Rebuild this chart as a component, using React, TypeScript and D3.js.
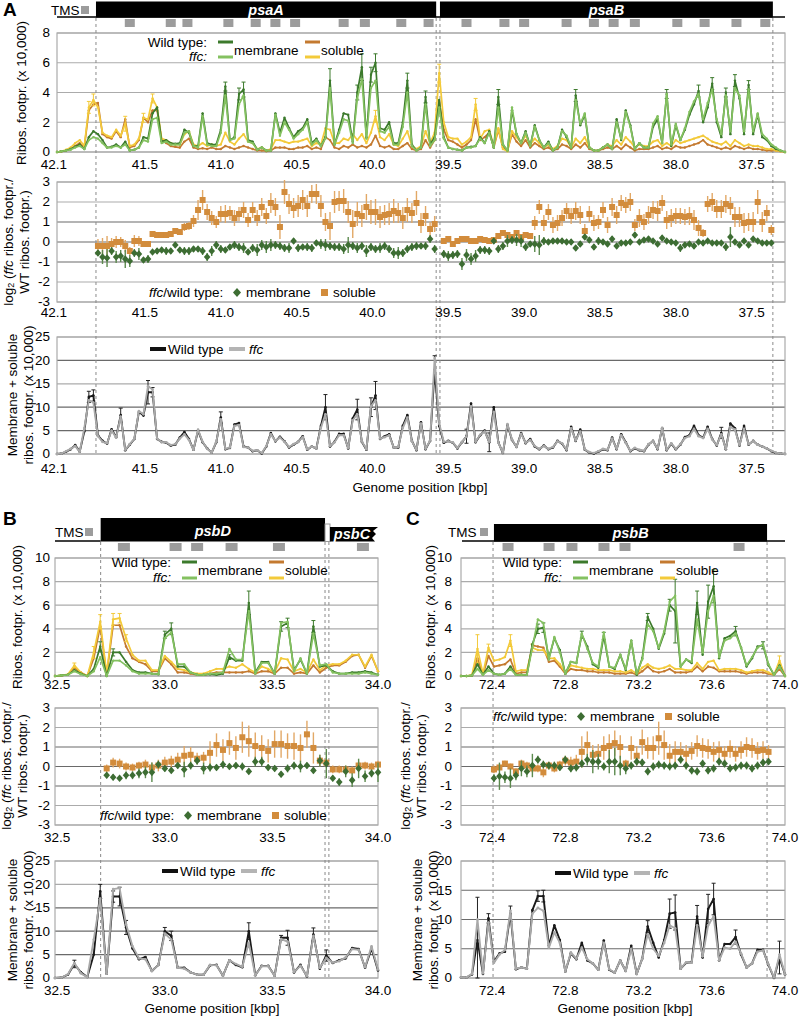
import React from "react";
import * as d3 from "d3";

const FONT = "'Liberation Sans', Arial, Helvetica, sans-serif";

const COL_WT_MEM = "#3c7a2c";
const COL_FFC_MEM = "#84c160";
const COL_WT_SOL = "#c47a30";
const COL_FFC_SOL = "#f3ca3a";
const COL_DIAMOND = "#3d6d33";
const COL_SQUARE = "#d28c3c";
const COL_SQUARE_ERR = "#e2a866";
const COL_DIAMOND_ERR = "#5c8a4e";

// ---------------- Panel A ----------------
const A_BIN_START = 42.08;
const A_BIN_STEP = -0.03;
const A_WT_MEM = [0,0.05,0.1,0.2,0.35,0.5,0.2,1.0,1.4,1.2,
0.8,0.3,0.35,0.5,0.3,0.7,0.1,0.15,0.3,1.0,
0.9,2.6,3.0,0.7,0.8,0.6,0.55,0.6,1.5,1.3,
0.4,0.4,2.6,0.6,0.5,0.5,1.5,4.4,0.8,1.0,
3.9,4.2,0.8,0.7,0.15,0.3,0.1,0.1,2.6,1.3,
2.3,1.6,1.0,1.4,1.6,2.2,0.6,0.9,0.4,1.0,
4.8,0.5,1.5,2.6,2.5,0.7,4.0,5.7,1.0,5.2,
6.0,1.6,1.5,2.0,0.6,0.6,2.0,4.8,0.5,0.1,
0.3,3.7,0.5,1.0,3.5,1.0,0.3,0.2,0.15,0.1,
0.3,0.35,0.4,1.0,0.6,1.4,0.3,3.7,0.5,0.1,
2.8,1.2,0.6,1.4,0.4,1.8,0.8,0.3,0.7,0.1,
0.3,1.5,1.0,0.3,3.8,1.8,2.5,0.3,0.1,0.1,
0.3,0.5,0.2,2.2,0.8,2.8,1.8,0.2,0.6,0.3,
0.3,1.7,2.2,0.6,3.9,0.4,1.8,0.8,1.5,2.5,
3.2,4.1,2.0,3.0,4.6,2.0,1.0,4.0,1.2,4.8,
3.6,1.2,4.5,1.2,2.5,1.0,0.8,0.4,0.2,0.1,
0];
const A_FFC_MEM = [0,0.05,0.1,0.15,0.3,0.4,0.2,0.8,1.0,0.9,
0.6,0.3,0.3,0.4,0.3,0.5,0.1,0.15,0.3,0.8,
0.7,2.2,2.3,0.6,0.7,0.5,0.5,0.5,1.3,1.4,
0.4,0.3,2.4,0.5,0.4,0.4,1.3,3.8,0.8,0.9,
3.2,3.8,0.7,0.6,0.15,0.3,0.1,0.1,2.5,1.1,
2.0,1.5,0.9,1.2,1.5,2.0,0.5,0.8,0.4,0.9,
4.3,0.5,1.3,2.2,2.1,0.6,3.6,4.9,0.9,4.3,
4.8,1.4,1.3,1.7,0.5,0.5,1.7,4.0,0.4,0.1,
0.3,3.2,0.4,0.8,3.0,0.9,0.3,0.2,0.15,0.1,
0.3,0.3,0.4,0.9,0.6,1.3,0.3,3.0,0.5,0.1,
3.0,1.2,0.6,1.3,0.4,1.7,0.8,0.3,0.6,0.1,
0.3,1.4,1.1,0.3,3.5,1.9,2.6,0.3,0.1,0.1,
0.3,0.5,0.2,2.0,0.9,2.7,1.7,0.2,0.6,0.3,
0.3,1.9,2.4,0.6,3.9,0.5,1.9,0.8,1.6,2.7,
3.4,3.9,2.2,3.3,4.2,2.2,1.2,3.8,1.4,4.3,
3.8,1.4,4.2,1.4,2.6,1.2,0.9,0.5,0.3,0.1,
0];
const A_WT_SOL = [0,0.05,0.1,0.2,0.4,0.6,0.3,2.8,3.2,3.3,
1.2,1.0,0.9,1.4,1.0,2.2,0.3,0.4,0.8,2.3,
2.0,2.8,2.8,0.8,0.6,0.4,0.35,0.3,0.7,0.9,
0.3,0.2,0.25,0.2,0.3,0.2,0.2,0.4,0.3,0.2,
0.3,0.4,0.3,0.2,0.1,0.1,0.05,0.1,0.3,0.3,
0.3,0.2,0.2,0.3,0.3,0.4,0.2,0.3,0.2,1.0,
0.8,0.3,0.2,0.4,0.3,0.5,0.3,0.4,0.3,0.5,
1.1,0.4,0.3,0.4,0.2,0.2,0.4,0.6,0.2,0.1,
0.2,0.8,0.3,0.8,3.4,1.5,0.8,0.7,0.5,0.3,
0.5,0.8,2.2,0.8,1.0,1.3,0.3,1.5,0.3,0.1,
1.2,0.7,0.4,0.8,0.3,0.6,0.4,0.2,0.3,0.1,
0.2,0.5,0.4,0.2,0.5,0.3,0.6,0.2,0.1,0.1,
0.2,0.3,0.2,0.4,0.2,0.5,0.3,0.1,0.2,0.2,
0.2,0.3,0.4,0.2,0.3,0.2,0.4,0.3,0.3,0.4,
0.5,0.6,0.8,0.5,0.4,0.3,0.2,0.3,0.2,0.4,
0.3,0.2,0.3,0.2,0.2,0.15,0.1,0.1,0.1,0.05,
0];
const A_FFC_SOL = [0,0.05,0.15,0.3,0.6,0.8,0.4,3.0,3.5,3.0,
1.3,1.1,1.0,1.5,1.1,1.9,0.4,0.5,0.9,2.3,
2.2,3.6,3.0,0.9,0.8,0.6,0.5,0.5,1.2,1.4,
0.5,0.4,0.6,0.4,0.5,0.4,0.5,1.3,0.7,0.5,
0.9,1.2,0.7,0.6,0.2,0.3,0.1,0.2,0.8,0.8,
0.7,0.6,0.7,0.7,0.8,0.9,0.4,0.6,0.5,1.6,
1.5,0.6,0.6,0.9,0.8,1.2,0.8,1.2,0.6,1.3,
2.4,1.0,0.8,1.2,0.5,0.4,0.9,1.4,0.4,0.2,
0.4,1.4,0.6,1.3,5.3,2.0,1.0,0.9,0.9,0.5,
0.7,1.0,3.2,0.9,1.4,1.5,0.4,1.6,0.2,0.05,
1.4,1.0,0.6,1.1,0.5,0.9,0.6,0.3,0.5,0.2,
0.4,0.9,0.8,0.3,0.9,0.6,1.0,0.3,0.1,0.1,
0.3,0.5,0.4,0.8,0.5,1.0,0.7,0.3,0.5,0.4,
0.4,0.7,0.8,0.4,0.6,0.4,0.8,0.6,0.7,0.8,
0.9,1.0,1.1,0.9,0.7,0.6,0.5,0.7,0.4,0.8,
0.6,0.4,0.5,0.4,0.4,0.3,0.2,0.2,0.1,0.05,
0];
const A_WT_SUM = [0,0.1,0.5,1.0,1.9,0.5,4.8,12.2,12.5,4.0,
2.8,2.2,5.3,3.6,8.3,0.8,2.0,3.2,9.0,8.2,
13.2,13.2,3.2,2.6,2.4,1.8,2.0,3.5,4.7,3.2,
0.9,5.0,2.5,1.2,0.3,2.5,7.8,1.0,1.3,6.3,
6.6,1.6,1.4,0.6,0.8,0.1,1.6,4.5,2.7,3.7,
2.7,1.4,2.0,2.6,3.8,0.9,1.6,1.2,6.0,10.0,
1.6,2.6,4.3,4.3,1.2,7.6,9.5,2.6,0.9,10.0,
12.5,3.2,3.8,4.2,1.4,
1.4,6.0,8.3,2.8,0.8,6.8,1.0,2.8,18.0,6.0,
2.4,2.8,2.4,1.2,2.5,3.8,10.8,2.5,4.0,5.0,
2.5,10.0,2.5,0.2,6.2,3.0,1.5,4.5,2.3,3.2,
1.6,1.0,1.8,1.0,1.4,2.8,2.2,0.8,5.8,2.8,
5.2,0.9,0.3,0.1,0.5,1.0,0.8,3.5,1.0,4.2,
2.5,0.6,1.2,0.8,0.6,2.0,2.8,1.0,5.5,0.8,
2.2,1.0,2.0,3.6,4.0,6.0,4.0,3.5,5.8,3.2,
1.8,4.5,1.0,6.5,5.5,1.8,6.0,2.0,2.8,2.0,
1.6,1.2,0.6,0.2,0.1,0];
const A_FFC_SUM = [0,0.1,0.6,1.1,1.7,0.5,5.5,11.5,11.0,3.8,
2.6,2.3,5.0,3.5,8.0,0.9,2.1,3.3,9.2,8.5,
14.5,13.8,3.3,2.5,2.5,1.9,2.1,3.3,4.2,3.0,
0.9,5.2,2.6,1.1,0.3,2.6,7.4,1.1,1.4,6.0,
6.2,1.5,1.4,0.7,0.8,0.2,1.7,4.2,2.8,3.5,
2.6,1.5,2.1,2.6,3.6,1.0,1.6,1.2,5.6,8.5,
1.7,2.5,4.0,4.0,1.3,7.2,8.5,2.7,1.0,10.2,
11.5,3.3,3.6,4.0,1.4,
1.5,5.6,7.8,2.7,0.9,6.5,1.1,2.9,20.5,6.5,
2.6,2.7,2.5,1.3,2.6,3.7,10.2,2.6,4.1,4.8,
2.6,9.0,2.4,0.3,6.4,3.1,1.5,4.3,2.4,3.0,
1.7,1.1,1.7,1.1,1.5,2.7,2.3,0.9,5.5,2.9,
4.8,1.0,0.4,0.2,0.6,1.1,0.9,3.3,1.1,4.0,
2.4,0.7,1.3,0.9,0.7,2.1,2.7,1.1,5.6,0.9,
2.3,1.1,2.1,3.4,3.8,5.4,3.8,3.4,5.4,3.1,
1.9,4.2,1.1,5.8,5.2,1.9,5.4,2.1,2.7,2.0,
1.6,1.2,0.7,0.3,0.1,0];
// error bars at the visible peaks (bin index, +/- error)
const A_MEM_ERR_BINS = [37, 40, 41, 60, 66, 67, 69, 70, 77, 81, 97, 114, 134, 141, 144, 147, 149, 152];
const A_MEM_ERR = [0.3, 0.4, 0.5, 0.8, 0.5, 0.9, 0.5, 0.6, 0.5, 0.4, 0.5, 0.4, 0.3, 0.4, 0.4, 0.3, 0.4, 0.3];
const A_SOL_ERR_BINS = [7, 8, 15, 19, 21, 70, 84, 92];
const A_SOL_ERR = [0.4, 0.4, 0.5, 0.3, 0.3, 0.4, 0.6, 0.4];
const A_SUM_ERR_BINS = [7, 8, 14, 20, 21, 36, 59, 66, 69, 70, 83, 90, 95, 146];
const A_SUM_ERR = [1.2, 1.2, 1.5, 2.5, 1.0, 1.2, 2.7, 2.2, 2.0, 3.0, 3.0, 1.5, 2.0, 1.2];

const A_LOG1_START = 41.81;
const A_LOG2_START = 39.53;
const A_LOG1_SOL = [-0.2,-0.2,-0.2,-0.1,0,0,-0.2,-0.45,0.05,0.05,
-0.1,-0.1,0.4,0.35,0.35,0.35,0.4,0.55,0.5,0.75,
0.8,1.05,1.6,2.1,1.5,1.2,1.0,1.4,1.4,1.45,
1.2,1.4,1.6,1.1,1.6,1.2,1.75,1.3,1.95,1.75,
0.75,2.5,1.9,1.7,1.8,2.1,1.8,2.4,2.4,1.8,
1.0,0.8,2.0,2.05,2.05,1.5,0.9,1.4,1.3,1.75,
1.5,1.5,1.25,1.35,1.4,1.55,1.45,1.2,1.6,1.45,
1.95,0.95,1.3,0.65,0.9];
const A_LOG1_SOL_ERR = [0.35,0.4,0.5,0.3,0.3,0.25,0.3,0.2,0.3,0.25,
0.15,0.15,0.1,0.1,0.1,0.1,0.1,0.15,0.15,0.2,
0.2,0.3,0.5,0.5,0.4,0.35,0.3,0.4,0.45,0.35,
0.4,0.35,0.4,0.35,0.4,0.4,0.45,0.4,0.5,0.45,
0.6,0.6,0.5,0.5,0.55,0.5,0.55,0.45,0.5,0.55,
0.45,0.7,0.55,0.5,0.6,0.55,0.7,0.6,0.55,0.65,
0.6,0.65,0.55,0.5,0.55,0.6,0.5,0.55,0.6,0.5,
0.6,0.5,0.5,0.35,0.4];
const A_LOG1_MEM = [-0.55,-0.75,-0.8,-0.45,-0.75,-0.7,-0.85,-0.95,-0.55,-0.6,
-0.9,-0.85,-0.5,-0.45,-0.4,-0.45,-0.45,-0.15,-0.4,-0.45,
-0.45,-0.35,-0.35,-0.45,-0.75,-0.45,-0.15,-0.35,-0.4,-0.25,
-0.15,-0.25,-0.3,-0.5,-0.3,-0.4,-0.15,-0.25,-0.15,-0.15,
-0.2,-0.3,-0.3,0.05,-0.3,-0.25,-0.25,-0.3,-0.05,-0.1,
-0.15,-0.2,-0.25,-0.25,-0.35,-0.15,-0.2,-0.3,-0.2,-0.45,
-0.25,-0.35,-0.3,-0.2,-0.35,-0.55,-0.55,-0.55,-0.35,-0.25,
-0.2,-0.2,-0.2,0.15,-0.35];
const A_LOG1_MEM_ERR = [0.15,0.35,0.45,0.2,0.3,0.3,0.45,0.3,0.2,0.3,
0.15,0.2,0.1,0.15,0.15,0.2,0.15,0.15,0.15,0.2,
0.2,0.15,0.15,0.2,0.2,0.25,0.2,0.2,0.15,0.15,
0.2,0.2,0.25,0.15,0.2,0.3,0.25,0.3,0.3,0.2,
0.2,0.2,0.25,0.15,0.2,0.15,0.2,0.2,0.15,0.25,
0.3,0.2,0.2,0.2,0.25,0.4,0.2,0.25,0.2,0.3,
0.2,0.2,0.25,0.2,0.2,0.25,0.3,0.2,0.2,0.2,
0.2,0.15,0.2,0.2,0.2];
const A_LOG2_SOL = [0.05,0.15,-0.1,0.05,0.15,0.15,0.05,0.05,0.15,0.1,
0.05,0.1,0.3,0.45,0.35,0.25,0.45,0.25,0.35,0.3,
0.95,1.75,0.95,1.5,0.85,0.95,1.2,1.55,1.3,1.55,
1.35,0.55,1.4,0.95,1.0,1.6,0.85,1.75,1.35,1.95,
1.85,2.0,0.85,1.2,1.0,1.35,1.6,1.55,1.95,1.1,
1.2,1.3,1.3,1.25,1.3,1.1,0.7,0.45,1.9,2.0,
1.65,1.65,1.9,1.8,1.25,1.25,0.95,1.0,1.0,2.0,
1.0,1.45,0.6];
const A_LOG2_SOL_ERR = [0.1,0.1,0.1,0.1,0.1,0.1,0.1,0.1,0.1,0.1,
0.1,0.1,0.15,0.15,0.15,0.1,0.15,0.15,0.15,0.15,
0.35,0.35,0.4,0.4,0.4,0.4,0.4,0.4,0.4,0.45,
0.45,0.35,0.4,0.4,0.35,0.4,0.4,0.45,0.45,0.4,
0.4,0.45,0.3,0.45,0.4,0.45,0.45,0.5,0.4,0.45,
0.45,0.4,0.4,0.4,0.45,0.5,0.4,0.2,0.4,0.45,
0.45,0.45,0.45,0.45,0.5,0.5,0.5,0.45,0.5,0.6,
0.5,0.4,0.25];
const A_LOG2_MEM = [-0.6,-0.7,-0.65,-0.6,-1.1,-0.65,-0.85,-0.7,-0.4,-0.4,
-0.45,0.05,-0.35,-0.2,0.05,0.1,0.1,0.05,-0.25,-0.1,
-0.1,-0.15,0.05,0.0,0.05,0.05,0.05,0.0,0.0,-0.3,
-0.1,0.25,0.1,-0.25,0.05,0.0,-0.1,0.15,-0.2,-0.05,
-0.05,0.0,0.35,0.0,0.1,0.15,0.05,-0.1,0.2,0.05,
0.0,-0.05,-0.3,-0.15,-0.1,-0.2,0.0,-0.05,0.05,-0.05,
-0.05,-0.05,-0.25,0.25,0.0,-0.15,0.05,-0.15,0.15,0.05,
-0.05,-0.05,-0.05];
const A_LOG2_MEM_ERR = [0.2,0.25,0.2,0.2,0.3,0.3,0.3,0.3,0.2,0.2,
0.2,0.15,0.2,0.2,0.3,0.2,0.3,0.3,0.2,0.15,
0.4,0.5,0.2,0.15,0.15,0.15,0.15,0.15,0.15,0.15,
0.15,0.15,0.15,0.15,0.2,0.15,0.15,0.15,0.15,0.15,
0.15,0.15,0.15,0.1,0.1,0.15,0.1,0.1,0.15,0.1,
0.15,0.15,0.2,0.15,0.1,0.15,0.1,0.15,0.1,0.1,
0.1,0.1,0.2,0.5,0.1,0.15,0.1,0.15,0.1,0.1,
0.1,0.1,0.1];

const A_GENE_NAMES = ["psaA", "psaB"];
const A_GENE_STARTS = [41.823, 39.555];
const A_GENE_ENDS = [39.58, 37.36];
const A_TMS = [41.6,41.33,41.22,40.95,40.77,40.64,40.51,40.19,40.05,39.81,39.63,
39.38,39.13,39.0,38.72,38.54,38.41,38.27,37.99,37.81,37.6,37.41];
const A_XTICKS = [42.1,41.5,41.0,40.5,40.0,39.5,39.0,38.5,38.0,37.5];

// ---------------- Panel B ----------------
const B_BIN_START = 32.49;
const B_BIN_STEP = 0.03;
const B_WT_MEM = [0,0.05,0.1,0.5,0.2,0.0,0.6,2.5,0.0,2.0,
2.0,1.2,0.5,0.3,0.3,0.2,0.15,3.5,4.0,0.8,
0.8,0.3,0.1,0.1,0.15,0.1,0.2,1.6,1.3,1.3,
6.2,0.3,1.2,1.2,0.2,4.2,4.5,0.5,1.4,0.2,
4.2,0.8,0.9,0.4,0.2,0.2,0.3,0.3,0.4,0.3,
0.1];
const B_FFC_MEM = [0,0.05,0.1,0.4,0.15,0.0,0.4,1.6,0.0,1.3,
1.3,0.9,0.4,0.2,0.2,0.2,0.15,3.2,3.7,1.0,
1.0,0.3,0.1,0.1,0.2,0.2,0.3,2.3,1.4,1.4,
5.5,0.2,1.1,1.1,0.2,4.5,4.6,0.4,1.5,0.2,
3.6,0.9,1.0,0.3,0.2,0.2,0.2,0.2,0.3,0.2,
0.1];
const B_WT_SOL = [0,0.05,0.1,0.7,0.3,0.0,1.5,4.2,0.1,4.3,
4.3,2.5,1.5,1.2,1.0,0.4,0.4,1.5,1.0,0.3,
0.3,0.2,0.1,0.1,0.2,0.3,0.3,0.3,0.3,0.3,
0.4,0.2,0.4,0.4,0.2,0.7,0.7,0.2,0.3,0.2,
0.9,0.3,0.7,0.9,0.9,1.2,1.7,1.8,0.7,1.7,
0.4];
const B_FFC_SOL = [0,0.05,0.15,0.9,0.3,0.0,2.0,4.6,0.2,4.8,
4.9,3.2,1.8,1.3,1.3,0.5,0.5,1.7,1.2,0.6,
0.5,0.3,0.2,0.2,0.4,0.6,0.6,0.8,0.7,1.0,
0.6,0.3,0.8,0.6,0.3,1.5,1.4,0.4,0.6,0.3,
1.4,0.5,0.9,1.0,1.0,1.3,1.8,1.8,0.8,1.8,
0.4];
const B_WT_SUM = [0,0.1,0.7,3.0,1.2,0.2,5.0,18.5,0.9,17.4,
17.4,10.8,6.3,4.0,4.5,1.5,2.8,10.0,9.0,2.2,
2.2,1.2,0.7,0.7,2.7,2.8,0.5,3.8,2.8,2.3,
10.0,0.6,2.6,2.6,0.5,8.6,8.6,1.2,2.8,0.3,
9.3,2.0,4.8,3.2,3.8,4.2,6.4,6.2,2.2,6.3,
1.6];
const B_FFC_SUM = [0,0.1,0.8,3.2,1.0,0.2,8.2,17.0,0.9,19.0,
19.2,11.5,6.8,4.2,4.0,1.5,2.8,9.5,8.2,2.2,
2.0,1.2,0.7,0.7,2.8,2.7,0.5,3.8,3.0,2.4,
7.5,0.6,2.5,2.5,0.5,8.3,7.8,1.3,2.6,0.4,
9.0,2.2,4.3,3.3,3.6,4.4,6.2,6.0,2.3,6.8,
1.8];
const B_MEM_ERR_BINS = [7, 9, 17, 18, 27, 30, 35, 36, 40];
const B_MEM_ERR = [0.4, 0.3, 0.3, 0.5, 0.2, 1.0, 0.4, 0.4, 0.5];
const B_SOL_ERR_BINS = [3, 6, 7, 9, 10, 11];
const B_SOL_ERR = [0.2, 0.5, 0.6, 0.5, 0.4, 0.3];
const B_SUM_ERR_BINS = [3, 7, 9, 10, 11, 17, 18, 30, 35, 36, 40, 42];
const B_SUM_ERR = [0.8, 1.5, 1.2, 2.0, 1.5, 0.8, 1.0, 1.8, 0.5, 1.6, 1.4, 1.2];
const B_LOG_START = 32.73;
const B_LOG_SOL = [-0.1,0.2,0.15,0.0,-0.05,0.05,0.1,-0.05,0.05,0.2,
0.25,0.35,0.55,0.6,0.4,0.45,0.7,1.1,0.85,1.2,
0.95,1.5,1.3,1.05,0.95,0.8,1.15,1.15,1.05,1.05,
0.95,1.65,0.95,0.3,0.2,-0.15,-0.15,-0.15,-0.2,0.05,
0.05,0.0,0.1];
const B_LOG_SOL_ERR = [0.2,0.25,0.25,0.2,0.2,0.2,0.25,0.25,0.3,0.3,
0.3,0.35,0.5,0.4,0.3,0.3,0.6,0.6,0.55,0.6,
0.6,0.8,0.8,0.7,0.65,0.6,0.7,0.7,0.65,0.7,
0.7,0.7,0.8,0.3,0.25,0.2,0.2,0.2,0.2,0.2,
0.2,0.2,0.2];
const B_LOG_MEM = [-0.45,-0.55,-0.6,-0.45,-0.45,-0.35,-0.3,-0.3,0.1,-0.1,
-0.2,0.05,-0.15,0.05,0.3,-0.1,-0.05,-0.05,0.1,0.0,
0.05,0.0,-0.25,0.25,0.25,-0.05,-0.1,-0.4,-0.1,0.05,
0.0,0.05,-0.2,0.3,0.15,-0.6,-0.8,-0.25,-0.7,-0.1,
-0.5,-0.35,-0.3];
const B_LOG_MEM_ERR = [0.15,0.15,0.1,0.2,0.2,0.25,0.3,0.5,0.2,0.15,
0.15,0.15,0.4,0.2,0.2,0.3,0.2,0.15,0.2,0.15,
0.15,0.2,0.15,0.25,0.25,0.15,0.15,0.15,0.2,0.2,
0.3,0.15,0.15,0.3,0.75,0.15,0.2,0.3,0.35,0.5,
0.3,0.2,0.5];
const B_GENE_NAMES = ["psbD", "psbC"];
const B_GENE_STARTS = [32.702, 33.767];
const B_GENE_ENDS = [33.744, 33.99];
const B_DASHES = [32.702, 33.744, 33.762];
const B_TMS = [32.81, 33.05, 33.15, 33.31, 33.53, 33.92];
const B_XTICKS = [32.5, 33.0, 33.5, 34.0];

// ---------------- Panel C ----------------
const C_BIN_START = 72.23;
const C_BIN_STEP = 0.03;
const C_WT_MEM = [0,0,0.05,1.0,0.1,0.8,0.2,0.1,0.2,0.8,
0.1,0.1,0.1,2.7,4.0,4.1,1.5,3.2,2.2,0.2,
1.2,1.1,3.5,2.5,1.0,0.7,3.4,0.8,0.6,1.8,
0.5,3.0,0.1,1.5,5.0,4.0,2.3,3.6,6.0,5.5,
0.8,1.4,1.1,6.2,1.8,6.3,7.6,1.5,3.2,3.4,
3.8,2.4,0.8,1.5,2.5,2.6,0.9,0.1,0.9,0.0];
const C_FFC_MEM = [0,0,0.05,0.6,0.1,0.5,0.2,0.1,0.2,0.6,
0.1,0.1,0.1,2.4,4.8,4.5,1.4,3.3,2.0,0.2,
1.2,1.1,3.6,2.3,1.1,0.8,3.7,0.8,0.7,1.8,
0.6,3.0,0.2,1.4,4.4,3.8,2.4,3.8,6.3,6.8,
0.8,1.4,1.2,4.8,2.0,5.5,6.8,1.6,3.0,3.2,
3.6,2.4,0.9,1.6,2.4,2.7,1.0,0.1,0.8,0.0];
const C_WT_SOL = [0,0,0.05,1.5,0.1,1.7,0.8,0.9,1.0,1.4,
0.2,0.3,0.3,2.6,2.5,2.4,1.2,1.3,0.8,0.2,
0.6,0.5,0.5,0.4,0.4,0.3,0.3,0.3,0.2,0.2,
0.2,0.3,0.1,0.4,0.8,0.4,0.3,0.4,0.6,0.3,
0.3,0.3,0.4,0.8,0.4,0.8,0.7,0.4,0.4,0.4,
0.4,0.3,0.2,0.3,0.3,0.3,0.2,0.1,0.6,0.0];
const C_FFC_SOL = [0,0,0.1,2.3,0.2,2.4,1.3,1.4,1.6,3.0,
0.4,0.5,0.5,2.4,2.2,2.2,1.5,1.5,1.0,0.3,
0.9,0.8,0.7,0.6,0.6,0.5,0.5,0.5,0.4,0.4,
0.3,0.5,0.2,0.7,1.0,0.7,0.6,0.7,0.9,0.6,
0.6,0.5,0.5,1.1,0.6,1.2,1.3,0.5,0.6,0.6,
0.6,0.5,0.3,0.4,0.5,0.5,0.3,0.1,1.3,0.0];
const C_WT_SUM = [0.1,0.1,0.6,6.5,0.7,10.2,2.8,4.2,4.5,11.0,
1.5,1.8,1.6,11.6,14.0,14.0,5.5,9.0,6.5,1.1,
4.2,3.2,6.0,3.0,2.5,1.4,6.4,1.4,0.9,3.0,
1.2,5.5,0.7,3.3,8.8,6.0,3.5,6.5,11.0,11.2,
1.6,2.6,2.7,10.5,3.5,11.8,13.5,3.0,5.8,5.8,
7.0,4.0,1.8,2.5,4.8,4.8,2.2,0.0,3.5,0.6];
const C_FFC_SUM = [0.1,0.1,0.7,10.0,0.8,9.5,2.6,4.0,4.8,11.5,
1.6,1.8,1.6,11.0,12.0,11.5,5.2,7.8,6.0,1.1,
4.4,3.3,5.2,3.2,2.5,1.4,6.0,1.5,0.9,3.0,
1.2,5.0,0.7,3.3,7.5,5.0,3.8,6.0,9.0,8.5,
1.6,2.7,2.6,9.0,3.7,9.0,10.5,3.0,5.2,5.0,
6.2,4.2,1.8,2.5,4.5,4.7,2.3,0.1,4.0,0.6];
const C_MEM_ERR_BINS = [14, 15, 22, 26, 34, 38, 39, 43, 45, 46, 50, 55];
const C_MEM_ERR = [0.4, 0.4, 0.3, 0.3, 0.3, 0.5, 2.7, 1.0, 1.4, 1.4, 0.4, 0.3];
const C_SOL_ERR_BINS = [3, 5, 9, 13, 58];
const C_SOL_ERR = [1.2, 0.3, 0.5, 0.3, 0.4];
const C_SUM_ERR_BINS = [3, 5, 9, 14, 15, 34, 38, 39, 43, 45, 46, 50, 58];
const C_SUM_ERR = [7.3, 0.8, 1.3, 0.9, 1.0, 1.0, 2.5, 3.0, 1.9, 2.5, 2.7, 1.2, 2.8];
const C_LOG_START = 72.41;
const C_LOG_SOL = [-0.15,-0.05,0.15,0.0,-0.25,0.15,0.05,-0.1,-0.1,-0.3,
0.05,-0.1,0.1,0.3,0.2,0.25,0.75,1.1,0.6,0.65,
0.95,1.05,1.2,1.0,0.15,0.95,0.55,1.25,0.95,0.95,
1.45,1.1,0.55,0.75,0.75,0.65,0.8,1.05,0.95,0.9,
0.75,0.85,0.65,0.9,0.65,0.85,1.0,0.95,0.8,0.85,
0.75];
const C_LOG_SOL_ERR = [0.2,0.15,0.15,0.15,0.15,0.2,0.2,0.2,0.2,0.25,
0.2,0.2,0.2,0.25,0.3,0.35,0.8,0.7,0.5,0.5,
0.6,0.6,0.65,0.6,0.2,0.6,0.5,0.65,0.55,0.6,
0.85,0.75,0.6,0.55,0.5,0.45,0.45,0.55,0.5,0.5,
0.5,0.45,0.4,0.45,0.4,0.45,0.5,0.5,0.45,0.45,
0.35];
const C_LOG_MEM = [-0.6,-0.5,-0.55,-0.6,-0.45,-0.1,-0.25,0.05,0.35,0.1,
0.05,0.05,-0.05,0.35,-0.1,-0.05,0.15,0.35,0.25,0.25,
0.0,0.25,0.25,0.05,-0.1,0.05,0.25,0.2,-0.25,0.0,
0.1,0.05,0.0,0.05,0.35,0.05,-0.2,-0.25,0.15,-0.2,
-0.1,0.25,0.15,-0.1,-0.05,0.05,0.05,-0.1,0.05,0.2,
0.25];
const C_LOG_MEM_ERR = [0.2,0.7,0.3,0.5,0.25,0.4,0.3,0.6,0.2,0.2,
0.2,0.2,0.15,0.2,0.2,0.2,0.2,0.3,0.6,0.4,
0.2,0.6,0.7,0.5,0.3,0.2,0.2,0.2,0.2,0.2,
0.2,0.2,0.2,0.2,0.2,0.2,0.2,0.2,0.2,0.2,
0.2,0.2,0.2,0.2,0.2,0.2,0.2,0.2,0.2,0.2,
0.15];
const C_GENE_NAMES = ["psbB"];
const C_GENE_STARTS = [72.41];
const C_GENE_ENDS = [73.902];
const C_DASHES = [72.405, 73.902];
const C_TMS = [72.487, 72.711, 72.836, 73.011, 73.126, 73.749];
const C_XTICKS = [72.4, 72.8, 73.2, 73.6, 74.0];

const TOP_TICKS_A = [0, 2, 4, 6, 8];
const TOP_TICKS_BC = [0, 2, 4, 6, 8, 10];
const MID_TICKS = [-3, -2, -1, 0, 1, 2, 3];
const BOT_TICKS_AB = [0, 5, 10, 15, 20, 25];
const BOT_TICKS_C = [0, 5, 10, 15, 20];

type Lin = d3.ScaleLinear<number, number>;

function bins(start: number, step: number, n: number) {
  return d3.range(n).map((i) => +(start + i * step).toFixed(4));
}

function Frame({ x, y, ticks, dark, tickX }: { x: Lin; y: Lin; ticks: number[]; dark: number[]; tickX: number }) {
  const [x0, x1] = x.range();
  const [yb, yt] = y.range();
  return (
    <g>
      {ticks.map((t) => (
        <line key={t} x1={x0} x2={x1} y1={y(t)} y2={y(t)} stroke={dark.includes(t) ? "#6a6a6a" : "#ababab"} strokeWidth={1.2} />
      ))}
      <rect x={x0} y={yt} width={x1 - x0} height={yb - yt} fill="none" stroke="#ababab" strokeWidth={1.2} />
      {ticks.map((t) => (
        <text key={"t" + t} x={tickX} y={y(t)} dy="0.33em" textAnchor="end" fontSize={13.5}>{String(t)}</text>
      ))}
    </g>
  );
}

function XLabels({ x, ticks, yPos }: { x: Lin; ticks: number[]; yPos: number }) {
  return (
    <g>
      {ticks.map((t) => (
        <text key={t} x={Math.min(x(t), x.range()[1])} y={yPos} textAnchor="middle" fontSize={13.5}>{t.toFixed(1)}</text>
      ))}
    </g>
  );
}

function Profile({ x, y, xs, ys, color, width, r }: { x: Lin; y: Lin; xs: number[]; ys: number[]; color: string; width: number; r: number }) {
  const line = d3.line<number>().x((_, i) => x(xs[i])).y((d) => y(d));
  return (
    <g>
      <path d={line(ys) || ""} fill="none" stroke={color} strokeWidth={width} strokeLinejoin="round" />
      {ys.map((v, i) => (
        <circle key={i} cx={x(xs[i])} cy={y(v)} r={r} fill={color} />
      ))}
    </g>
  );
}

function ErrCaps({ x, y, xs, ys, at, errs, color }: { x: Lin; y: Lin; xs: number[]; ys: number[]; at: number[]; errs: number[]; color: string }) {
  return (
    <g stroke={color} strokeWidth={1}>
      {at.map((b, k) => {
        const cx = x(xs[b]);
        const lo = y(Math.max(0, ys[b] - errs[k]));
        const hi = y(ys[b] + errs[k]);
        return (
          <g key={k}>
            <line x1={cx} x2={cx} y1={lo} y2={hi} />
            <line x1={cx - 2} x2={cx + 2} y1={hi} y2={hi} />
            <line x1={cx - 2} x2={cx + 2} y1={lo} y2={lo} />
          </g>
        );
      })}
    </g>
  );
}

function LogSeries({ x, y, xs, vals, errs, shape, color, errColor }: { x: Lin; y: Lin; xs: number[]; vals: number[]; errs: number[]; shape: string; color: string; errColor: string }) {
  return (
    <g>
      {vals.map((v, i) => (
        <line key={"e" + i} x1={x(xs[i])} x2={x(xs[i])} y1={y(v - errs[i])} y2={y(v + errs[i])} stroke={errColor} strokeWidth={1.4} />
      ))}
      {vals.map((v, i) => {
        const cx = x(xs[i]);
        const cy = y(v);
        return shape === "diamond" ? (
          <path key={"m" + i} d={`M${cx},${cy - 3.8}L${cx + 3.3},${cy}L${cx},${cy + 3.8}L${cx - 3.3},${cy}Z`} fill={color} />
        ) : (
          <rect key={"m" + i} x={cx - 3} y={cy - 3} width={6} height={6} fill={color} />
        );
      })}
    </g>
  );
}

function YTitle({ cx, cy, lines }: { cx: number[]; cy: number; lines: React.ReactNode[] }) {
  return (
    <g>
      {lines.map((l, i) => (
        <text key={i} transform={`translate(${cx[i]},${cy}) rotate(-90)`} textAnchor="middle" dominantBaseline="central" fontSize={13.5}>{l}</text>
      ))}
    </g>
  );
}

const LOG_LINE1 = (
  <>
    log<tspan fontSize={9} dy={3}>2</tspan>
    <tspan dy={-3}> (</tspan>
    <tspan fontStyle="italic">ffc</tspan> ribos. footpr./
  </>
);

function TopLegend({ xr, y1, y2 }: { xr: number; y1: number; y2: number }) {
  const ym = (y1 + y2) / 2;
  return (
    <g fontSize={13.5}>
      <text x={xr} y={y1 + 4} textAnchor="end">Wild type:</text>
      <text x={xr} y={y2 + 5} textAnchor="end" fontStyle="italic">ffc:</text>
      <line x1={xr + 11} x2={xr + 26} y1={y1 - 1} y2={y1 - 1} stroke={COL_WT_MEM} strokeWidth={3} />
      <line x1={xr + 11} x2={xr + 26} y1={y2 + 1} y2={y2 + 1} stroke={COL_FFC_MEM} strokeWidth={3} />
      <text x={xr + 27} y={ym + 5}>membrane</text>
      <line x1={xr + 98} x2={xr + 113} y1={y1 - 1} y2={y1 - 1} stroke={COL_WT_SOL} strokeWidth={3} />
      <line x1={xr + 98} x2={xr + 113} y1={y2 + 1} y2={y2 + 1} stroke={COL_FFC_SOL} strokeWidth={3} />
      <text x={xr + 114} y={ym + 5}>soluble</text>
    </g>
  );
}

function MidLegend({ xl, yb }: { xl: number; yb: number }) {
  const cy = yb - 4.5;
  return (
    <g fontSize={13.5}>
      <text x={xl} y={yb}><tspan fontStyle="italic">ffc</tspan>/wild type:</text>
      <path d={`M${xl + 88},${cy - 4.5}L${xl + 92},${cy}L${xl + 88},${cy + 4.5}L${xl + 84},${cy}Z`} fill={COL_DIAMOND} />
      <text x={xl + 97} y={yb}>membrane</text>
      <rect x={xl + 172} y={cy - 3.5} width={7} height={7} fill={COL_SQUARE} />
      <text x={xl + 184} y={yb}>soluble</text>
    </g>
  );
}

function BotLegend({ xl, yb }: { xl: number; yb: number }) {
  const cy = yb - 5;
  return (
    <g fontSize={13.5}>
      <line x1={xl} x2={xl + 16} y1={cy} y2={cy} stroke="#111" strokeWidth={4} />
      <text x={xl + 18} y={yb}>Wild type</text>
      <line x1={xl + 79} x2={xl + 95} y1={cy} y2={cy} stroke="#b4b4b4" strokeWidth={4} />
      <text x={xl + 99} y={yb} fontStyle="italic">ffc</text>
    </g>
  );
}

function Dashes({ x, pos, y0, y1 }: { x: Lin; pos: number[]; y0: number; y1: number }) {
  return (
    <g>
      {pos.map((p, i) => (
        <line key={i} x1={x(p)} x2={x(p)} y1={y0} y2={y1} stroke="#8a8a8a" strokeWidth={1} strokeDasharray="3,3" />
      ))}
    </g>
  );
}

function TmsBoxes({ x, pos, y, w, h }: { x: Lin; pos: number[]; y: number; w: number; h: number }) {
  return (
    <g>
      {pos.map((p, i) => (
        <rect key={i} x={x(p) - w / 2} y={y} width={w} height={h} fill="#9c9c9c" />
      ))}
    </g>
  );
}

export default function App() {
  const axA = d3.scaleLinear().domain([42.08, 37.28]).range([57, 785]);
  const ayA1 = d3.scaleLinear().domain([0, 8]).range([152, 33]);
  const ayA2 = d3.scaleLinear().domain([-3, 3]).range([302, 182]);
  const ayA3 = d3.scaleLinear().domain([0, 25]).range([454, 337]);

  const axB = d3.scaleLinear().domain([32.49, 33.99]).range([55, 378]);
  const ayB1 = d3.scaleLinear().domain([0, 10]).range([676, 558]);
  const ayB2 = d3.scaleLinear().domain([-3, 3]).range([825, 708]);
  const ayB3 = d3.scaleLinear().domain([0, 25]).range([978, 861]);

  const axC = d3.scaleLinear().domain([72.23, 74.0]).range([461, 785]);
  const ayC1 = d3.scaleLinear().domain([0, 10]).range([676, 558]);
  const ayC2 = d3.scaleLinear().domain([-3, 3]).range([825, 708]);
  const ayC3 = d3.scaleLinear().domain([0, 20]).range([978, 861]);

  const xsA = bins(A_BIN_START, A_BIN_STEP, A_WT_MEM.length);
  const xsA1 = bins(A_LOG1_START, A_BIN_STEP, A_LOG1_SOL.length);
  const xsA2 = bins(A_LOG2_START, A_BIN_STEP, A_LOG2_SOL.length);
  const xsB = bins(B_BIN_START, B_BIN_STEP, B_WT_MEM.length);
  const xsBl = bins(B_LOG_START, B_BIN_STEP, B_LOG_SOL.length);
  const xsC = bins(C_BIN_START, C_BIN_STEP, C_WT_MEM.length);
  const xsCl = bins(C_LOG_START, C_BIN_STEP, C_LOG_SOL.length);

  const topPlot = (x: Lin, y: Lin, xs: number[], wm: number[], fm: number[], ws: number[], fs: number[], memAt: number[], memE: number[], solAt: number[], solE: number[]) => (
    <g>
      <Profile x={x} y={y} xs={xs} ys={ws} color={COL_WT_SOL} width={1.7} r={1.2} />
      <ErrCaps x={x} y={y} xs={xs} ys={fs} at={solAt} errs={solE} color={COL_FFC_SOL} />
      <Profile x={x} y={y} xs={xs} ys={fs} color={COL_FFC_SOL} width={1.7} r={1.2} />
      <ErrCaps x={x} y={y} xs={xs} ys={wm} at={memAt} errs={memE} color={COL_WT_MEM} />
      <Profile x={x} y={y} xs={xs} ys={wm} color={COL_WT_MEM} width={1.7} r={1.2} />
      <Profile x={x} y={y} xs={xs} ys={fm} color={COL_FFC_MEM} width={1.7} r={1.2} />
    </g>
  );
  const botPlot = (x: Lin, y: Lin, xs: number[], w: number[], f: number[], at: number[], e: number[]) => (
    <g>
      <ErrCaps x={x} y={y} xs={xs} ys={w} at={at} errs={e} color="#222" />
      <Profile x={x} y={y} xs={xs} ys={w} color="#1a1a1a" width={1.9} r={1.3} />
      <Profile x={x} y={y} xs={xs} ys={f} color="#a9a9a9" width={1.9} r={1.3} />
    </g>
  );
  const midPlot = (x: Lin, y: Lin, xs: number[], sol: number[], solE: number[], mem: number[], memE: number[]) => (
    <g>
      <LogSeries x={x} y={y} xs={xs} vals={sol} errs={solE} shape="square" color={COL_SQUARE} errColor={COL_SQUARE_ERR} />
      <LogSeries x={x} y={y} xs={xs} vals={mem} errs={memE} shape="diamond" color={COL_DIAMOND} errColor={COL_DIAMOND_ERR} />
    </g>
  );

  return (
    <svg width={799} height={1018} style={{ position: "absolute", left: 0, top: 0, background: "#fff" }} fontFamily={FONT}>
      <rect x={0} y={0} width={799} height={1018} fill="#fff" />

      {/* ================= Panel A ================= */}
      <text x={3} y={16} fontSize={19} fontWeight="bold">A</text>
      <text x={51} y={14.5} fontSize={13.5}>TMS</text>
      <rect x={81} y={6} width={8} height={8} fill="#9c9c9c" />
      <line x1={57} x2={785} y1={17} y2={17} stroke="#000" strokeWidth={1.5} />
      {A_GENE_NAMES.map((g, i) => (
        <g key={g}>
          <rect x={axA(A_GENE_STARTS[i])} y={1.5} width={axA(A_GENE_ENDS[i]) - axA(A_GENE_STARTS[i])} height={16} fill="#000" />
          <text x={(axA(A_GENE_STARTS[i]) + axA(A_GENE_ENDS[i])) / 2} y={14.5} textAnchor="middle" fill="#fff" fontSize={14.5} fontWeight="bold" fontStyle="italic">{g}</text>
        </g>
      ))}
      <TmsBoxes x={axA} pos={A_TMS} y={19} w={10} h={8} />

      <Frame x={axA} y={ayA1} ticks={TOP_TICKS_A} dark={[]} tickX={50} />
      <Frame x={axA} y={ayA2} ticks={MID_TICKS} dark={[-1, 0, 1]} tickX={50} />
      <Frame x={axA} y={ayA3} ticks={BOT_TICKS_AB} dark={[5, 10, 20]} tickX={50} />
      <Dashes x={axA} pos={[...A_GENE_STARTS, ...A_GENE_ENDS]} y0={18} y1={454} />
      <XLabels x={axA} ticks={A_XTICKS} yPos={169} />
      <XLabels x={axA} ticks={A_XTICKS} yPos={317} />
      <XLabels x={axA} ticks={A_XTICKS} yPos={473} />
      <text x={420} y={492} textAnchor="middle" fontSize={13.5}>Genome position [kbp]</text>

      <YTitle cx={[21]} cy={93} lines={["Ribos. footpr. (x 10,000)"]} />
      <YTitle cx={[8, 24]} cy={242} lines={[LOG_LINE1, "WT ribos. footpr.)"]} />
      <YTitle cx={[12, 28]} cy={395} lines={["Membrane + soluble", "ribos. footpr. (x 10,000)"]} />

      {topPlot(axA, ayA1, xsA, A_WT_MEM, A_FFC_MEM, A_WT_SOL, A_FFC_SOL, A_MEM_ERR_BINS, A_MEM_ERR, A_SOL_ERR_BINS, A_SOL_ERR)}
      {midPlot(axA, ayA2, xsA1, A_LOG1_SOL, A_LOG1_SOL_ERR, A_LOG1_MEM, A_LOG1_MEM_ERR)}
      {midPlot(axA, ayA2, xsA2, A_LOG2_SOL, A_LOG2_SOL_ERR, A_LOG2_MEM, A_LOG2_MEM_ERR)}
      {botPlot(axA, ayA3, xsA, A_WT_SUM, A_FFC_SUM, A_SUM_ERR_BINS, A_SUM_ERR)}

      <TopLegend xr={207} y1={43} y2={56} />
      <MidLegend xl={149} yb={297} />
      <BotLegend xl={150} yb={354} />

      {/* ================= Panel B ================= */}
      <text x={3} y={525} fontSize={19} fontWeight="bold">B</text>
      <text x={55} y={537} fontSize={13.5}>TMS</text>
      <rect x={85} y={528} width={8} height={8} fill="#9c9c9c" />
      <line x1={55} x2={axB(B_GENE_STARTS[0])} y1={541} y2={541} stroke="#000" strokeWidth={1.5} />
      <rect x={axB(B_GENE_STARTS[0])} y={518} width={axB(B_GENE_ENDS[0]) - axB(B_GENE_STARTS[0])} height={23.5} fill="#000" />
      <rect x={axB(B_GENE_ENDS[0])} y={524} width={axB(B_GENE_STARTS[1]) - axB(B_GENE_ENDS[0])} height={17.5} fill="#fff" stroke="#999" strokeWidth={1} />
      <path d={`M${axB(B_GENE_STARTS[1])},527L${axB(B_GENE_ENDS[1])},527L${axB(B_GENE_ENDS[1]) - 5},531L${axB(B_GENE_ENDS[1]) - 2},534L${axB(B_GENE_ENDS[1]) - 6},538L${axB(B_GENE_ENDS[1]) - 3},541.5L${axB(B_GENE_STARTS[1])},541.5Z`} fill="#000" />
      <text x={(axB(B_GENE_STARTS[0]) + axB(B_GENE_ENDS[0])) / 2} y={536} textAnchor="middle" fill="#fff" fontSize={14.5} fontWeight="bold" fontStyle="italic">{B_GENE_NAMES[0]}</text>
      <text x={(axB(B_GENE_STARTS[1]) + axB(B_GENE_ENDS[1])) / 2 - 2} y={538.5} textAnchor="middle" fill="#fff" fontSize={14.5} fontWeight="bold" fontStyle="italic">{B_GENE_NAMES[1]}</text>
      <TmsBoxes x={axB} pos={B_TMS} y={543} w={12} h={8} />

      <Frame x={axB} y={ayB1} ticks={TOP_TICKS_BC} dark={[]} tickX={50} />
      <Frame x={axB} y={ayB2} ticks={MID_TICKS} dark={[-1, 0, 1]} tickX={50} />
      <Frame x={axB} y={ayB3} ticks={BOT_TICKS_AB} dark={[5, 10, 15]} tickX={50} />
      <Dashes x={axB} pos={B_DASHES} y0={542} y1={978} />
      <XLabels x={axB} ticks={B_XTICKS} yPos={689} />
      <XLabels x={axB} ticks={B_XTICKS} yPos={842} />
      <XLabels x={axB} ticks={B_XTICKS} yPos={995} />
      <text x={212} y={1013} textAnchor="middle" fontSize={13.5}>Genome position [kbp]</text>

      <YTitle cx={[17]} cy={617} lines={["Ribos. footpr. (x 10,000)"]} />
      <YTitle cx={[6, 22]} cy={766} lines={[LOG_LINE1, "WT ribos. footpr.)"]} />
      <YTitle cx={[12, 28]} cy={920} lines={["Membrane + soluble", "ribos. footpr. (x 10,000)"]} />

      {topPlot(axB, ayB1, xsB, B_WT_MEM, B_FFC_MEM, B_WT_SOL, B_FFC_SOL, B_MEM_ERR_BINS, B_MEM_ERR, B_SOL_ERR_BINS, B_SOL_ERR)}
      {midPlot(axB, ayB2, xsBl, B_LOG_SOL, B_LOG_SOL_ERR, B_LOG_MEM, B_LOG_MEM_ERR)}
      {botPlot(axB, ayB3, xsB, B_WT_SUM, B_FFC_SUM, B_SUM_ERR_BINS, B_SUM_ERR)}

      <TopLegend xr={171} y1={563} y2={577} />
      <MidLegend xl={100} yb={820} />
      <BotLegend xl={162} yb={876} />

      {/* ================= Panel C ================= */}
      <text x={406} y={525} fontSize={19} fontWeight="bold">C</text>
      <text x={448} y={537} fontSize={13.5}>TMS</text>
      <rect x={480} y={528} width={8} height={8} fill="#9c9c9c" />
      <line x1={462} x2={785} y1={541} y2={541} stroke="#000" strokeWidth={1.5} />
      <rect x={axC(C_GENE_STARTS[0])} y={524} width={axC(C_GENE_ENDS[0]) - axC(C_GENE_STARTS[0])} height={17.5} fill="#000" />
      <text x={(axC(C_GENE_STARTS[0]) + axC(C_GENE_ENDS[0])) / 2} y={537.5} textAnchor="middle" fill="#fff" fontSize={14.5} fontWeight="bold" fontStyle="italic">{C_GENE_NAMES[0]}</text>
      <TmsBoxes x={axC} pos={C_TMS} y={543} w={11} h={8} />

      <Frame x={axC} y={ayC1} ticks={TOP_TICKS_BC} dark={[]} tickX={452} />
      <Frame x={axC} y={ayC2} ticks={MID_TICKS} dark={[-1, 0, 1]} tickX={452} />
      <Frame x={axC} y={ayC3} ticks={BOT_TICKS_C} dark={[5, 10, 15]} tickX={452} />
      <Dashes x={axC} pos={C_DASHES} y0={542} y1={978} />
      <XLabels x={axC} ticks={C_XTICKS} yPos={689} />
      <XLabels x={axC} ticks={C_XTICKS} yPos={842} />
      <XLabels x={axC} ticks={C_XTICKS} yPos={995} />
      <text x={625} y={1013} textAnchor="middle" fontSize={13.5}>Genome position [kbp]</text>

      <YTitle cx={[430]} cy={617} lines={["Ribos. footpr. (x 10,000)"]} />
      <YTitle cx={[405, 421]} cy={766} lines={[LOG_LINE1, "WT ribos. footpr.)"]} />
      <YTitle cx={[417, 433]} cy={920} lines={["Membrane + soluble", "ribos. footpr. (x 10,000)"]} />

      {topPlot(axC, ayC1, xsC, C_WT_MEM, C_FFC_MEM, C_WT_SOL, C_FFC_SOL, C_MEM_ERR_BINS, C_MEM_ERR, C_SOL_ERR_BINS, C_SOL_ERR)}
      {midPlot(axC, ayC2, xsCl, C_LOG_SOL, C_LOG_SOL_ERR, C_LOG_MEM, C_LOG_MEM_ERR)}
      {botPlot(axC, ayC3, xsC, C_WT_SUM, C_FFC_SUM, C_SUM_ERR_BINS, C_SUM_ERR)}

      <TopLegend xr={562} y1={563} y2={577} />
      <MidLegend xl={493} yb={721} />
      <BotLegend xl={555} yb={878} />
    </svg>
  );
}
